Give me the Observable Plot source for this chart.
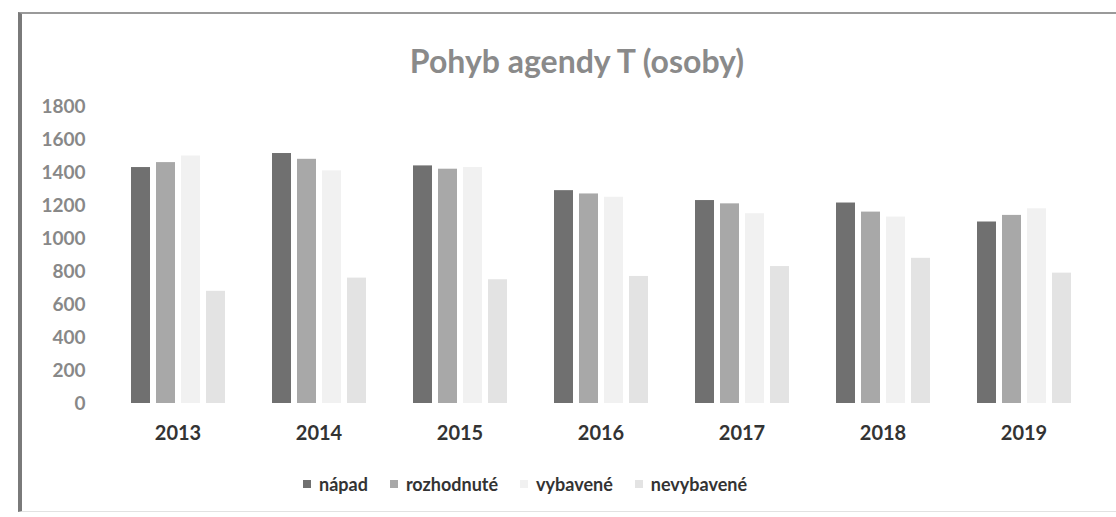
<!DOCTYPE html>
<html>
<head>
<meta charset="utf-8">
<script src="https://cdn.jsdelivr.net/npm/d3@7"></script>
<script src="https://cdn.jsdelivr.net/npm/@observablehq/plot@0.6"></script>
<style>
  html, body { margin: 0; padding: 0; background: #fff; }
  #wrap { position: relative; width: 1116px; height: 517px; overflow: hidden; font-family: Lato, "Open Sans", sans-serif; }
  #frame { position: absolute; left: 18px; top: 12px; width: 1110px; height: 500px;
           border-left: 4px solid #7a7a7a; border-top: 2px solid #9a9a9a; border-bottom: 1px solid #e2e2e2; box-sizing: border-box; }
  #title { position: absolute; left: 0; width: 1154px; top: 42px; text-align: center;
           font-size: 32px; font-weight: bold; color: #8a8a8a; line-height: 38px; }
  #chart { position: absolute; left: 0; top: 80px; }
  #legend { position: absolute; left: 303px; top: 473px; display: flex; align-items: center;
            font-size: 18px; font-weight: bold; color: #333; }
  .item { display: flex; align-items: center; margin-right: 22px; }
  .sw { width: 8px; height: 8px; margin-right: 8px; }
</style>
</head>
<body>
<div id="wrap">
  <div id="frame"></div>
  <div id="title">Pohyb agendy T (osoby)</div>
  <div id="chart"></div>
  <div id="legend"></div>
</div>
<script>
const years = ["2013", "2014", "2015", "2016", "2017", "2018", "2019"];
const series = ["nápad", "rozhodnuté", "vybavené", "nevybavené"];
const napad      = [1430, 1515, 1440, 1290, 1230, 1215, 1100];
const rozhodnute = [1460, 1480, 1420, 1270, 1210, 1160, 1140];
const vybavene   = [1500, 1410, 1430, 1250, 1150, 1130, 1180];
const nevybavene = [ 680,  760,  750,  770,  830,  880,  790];
const colors = ["#707070", "#a8a8a8", "#f1f1f1", "#e3e3e3"];
const yTicks = [0, 200, 400, 600, 800, 1000, 1200, 1400, 1600, 1800];

const valuesBySeries = [napad, rozhodnute, vybavene, nevybavene];
const data = [];
years.forEach((yr, i) => {
  series.forEach((s, j) => data.push({year: yr, series: s, value: valuesBySeries[j][i]}));
});

const chart = Plot.plot({
  width: 1116,
  height: 370,
  marginTop: 26,
  marginBottom: 47,
  marginLeft: 125,
  marginRight: 40,
  style: {fontFamily: "Lato, 'Open Sans', sans-serif", fontWeight: "bold", background: "transparent"},
  fx: {domain: years, paddingInner: 0.3, paddingOuter: 0, label: null},
  x: {domain: series, axis: null, paddingInner: 0.25, paddingOuter: 0.05},
  y: {domain: [0, 1800], label: null},
  color: {domain: series, range: colors},
  marks: [
    Plot.barY(data, {fx: "year", x: "series", y: "value", fill: "series"}),
    Plot.axisY({ticks: yTicks, tickFormat: "d", tickSize: 0, tickPadding: 43, label: null, fontSize: 19, fill: "#888"}),
    Plot.axisFx({anchor: "bottom", tickSize: 0, tickPadding: 22, label: null, fontSize: 20, fill: "#333"})
  ]
});
document.getElementById("chart").appendChild(chart);

const legend = document.getElementById("legend");
series.forEach((s, j) => {
  const it = document.createElement("div");
  it.className = "item";
  const sw = document.createElement("span");
  sw.className = "sw";
  sw.style.background = colors[j];
  const tx = document.createElement("span");
  tx.textContent = s;
  it.appendChild(sw);
  it.appendChild(tx);
  legend.appendChild(it);
});
</script>
</body>
</html>
